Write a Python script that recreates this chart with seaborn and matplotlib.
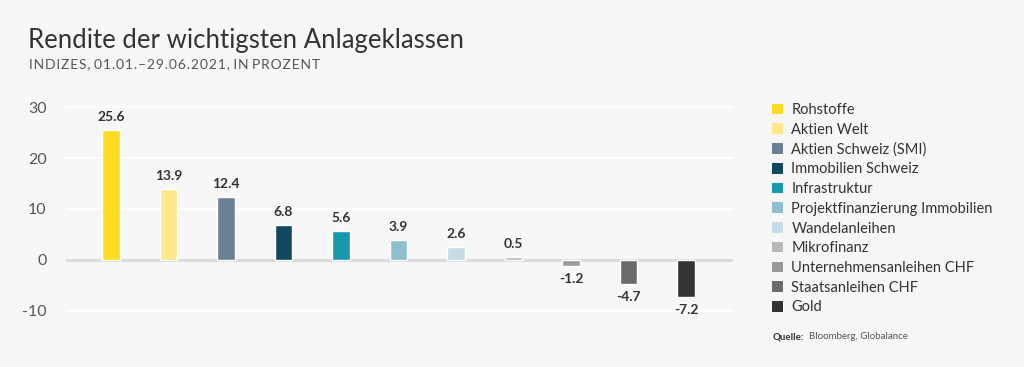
import matplotlib.pyplot as plt
import pandas as pd
import seaborn as sns
from matplotlib.patches import Patch

# Daten
klassen = ["Rohstoffe", "Aktien Welt", "Aktien Schweiz (SMI)", "Immobilien Schweiz",
           "Infrastruktur", "Projektfinanzierung Immobilien", "Wandelanleihen",
           "Mikrofinanz", "Unternehmensanleihen CHF", "Staatsanleihen CHF", "Gold"]
rendite = [25.6, 13.9, 12.4, 6.8, 5.6, 3.9, 2.6, 0.5, -1.2, -4.7, -7.2]
farben = ["#fddb1e", "#fde98c", "#6b7f95", "#11475f", "#1a98ab", "#8fbfcf",
          "#c5dde5", "#b8b8b8", "#999999", "#6b6b6b", "#333333"]
yticks = [-10, 0, 10, 20, 30]

df = pd.DataFrame({"Klasse": klassen, "Rendite": rendite})

sns.set_style("white")
plt.rcParams["font.family"] = ["Lato", "DejaVu Sans"]
bg = "#f7f7f7"

fig = plt.figure(figsize=(10.24, 3.67), dpi=100, facecolor=bg)
ax = fig.add_axes([0.0645, 0.146, 0.6515, 0.576], facecolor=bg)

sns.barplot(data=df, x="Klasse", y="Rendite", hue="Klasse", palette=farben,
            width=0.31, legend=False, ax=ax, saturation=1)

for cont in ax.containers:
    ax.bar_label(cont, fmt="%.1f", padding=5, fontsize=10, fontweight="bold", color="#333333")

ax.set_xlim(-0.78, 10.82)
ax.set_ylim(-10.5, 31)
ax.set_yticks(yticks)
ax.set_yticklabels([str(t) for t in yticks], fontsize=11.5, color="#555555")
ax.set_xticks([])
ax.set_xlabel("")
ax.set_ylabel("")
ax.tick_params(axis="y", length=0, pad=14)
for t in yticks:
    if t == 0:
        ax.axhline(t, color="#dcdcdc", lw=2.2, zorder=0.5)
    else:
        ax.axhline(t, color="white", lw=1.5, zorder=0.5)
sns.despine(ax=ax, left=True, bottom=True)

# Titel
fig.text(0.027, 0.87, "Rendite der wichtigsten Anlageklassen", fontsize=18.5, color="#333333")
untertitel = "INDIZES, 01.01.–29.06.2021, IN PROZENT"
gesperrt = " ".join("\u200a".join(w) for w in untertitel.split(" "))
fig.text(0.028, 0.815, gesperrt, fontsize=10, color="#555555")

# Legende
handles = [Patch(facecolor=c, edgecolor="none") for c in farben]
fig.legend(handles, klassen, loc="upper left", bbox_to_anchor=(0.748, 0.735),
           frameon=False, fontsize=10.5, handlelength=0.75, handleheight=0.75,
           handletextpad=0.6, labelspacing=0.39, borderaxespad=0, labelcolor="#333333")

fig.text(0.755, 0.075, "Quelle:", fontsize=7, fontweight="bold", color="#333333")
fig.text(0.79, 0.075, "Bloomberg, Globalance", fontsize=7, color="#555555")

fig.savefig("out.png", dpi=100, facecolor=bg)
